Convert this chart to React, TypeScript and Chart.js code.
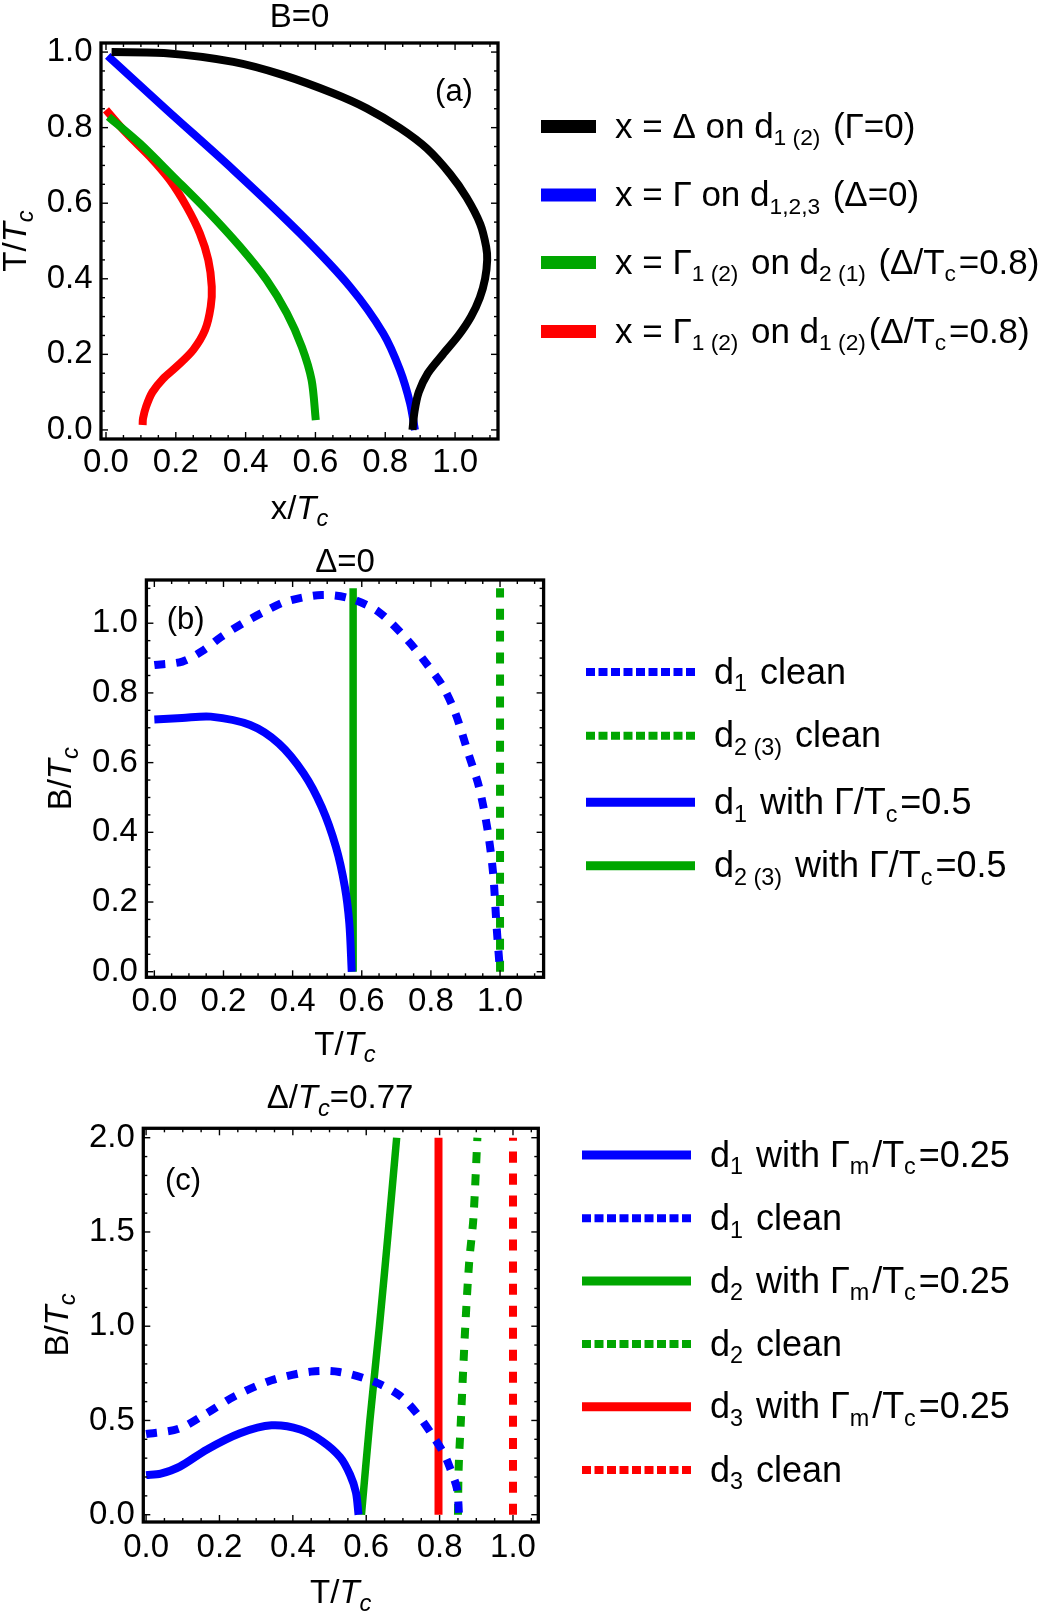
import React, { useEffect, useRef } from 'react';
import { Chart, registerables } from 'chart.js';

Chart.register(...registerables);

const FONT = '"Liberation Sans", Arial, Helvetica, sans-serif';
const PAGE_W = 1064;
const BLUE = '#0000ff';
const GREEN = '#00a600';
const RED = '#ff0000';
const BLACK = '#000000';

// ---------------- Panel (a): B = 0, x/Tc (horizontal) vs T/Tc (vertical) ----------------
const aXTicks = [0, 0.2, 0.4, 0.6, 0.8, 1.0];
const aYTicks = [0, 0.2, 0.4, 0.6, 0.8, 1.0];
const aBlackX = [0.016, 0.174, 0.365, 0.508, 0.651, 0.747, 0.842, 0.919, 0.986, 1.033, 1.072, 1.089, 1.092, 1.086, 1.071, 1.046, 1.01, 0.965, 0.922, 0.896, 0.884, 0.878];
const aBlackT = [1.0, 0.997, 0.974, 0.939, 0.891, 0.851, 0.799, 0.745, 0.677, 0.615, 0.545, 0.485, 0.45, 0.4, 0.35, 0.3, 0.25, 0.2, 0.15, 0.1, 0.05, 0.0];
const aBlueX = [0.005, 0.174, 0.365, 0.556, 0.699, 0.794, 0.842, 0.871, 0.885];
const aBlueT = [0.99, 0.847, 0.688, 0.52, 0.379, 0.256, 0.159, 0.071, 0.0];
const aGreenX = [0.007, 0.097, 0.193, 0.288, 0.384, 0.46, 0.518, 0.561, 0.589, 0.601];
const aGreenT = [0.829, 0.758, 0.67, 0.582, 0.485, 0.397, 0.309, 0.22, 0.132, 0.026];
const aRedX = [0.0, 0.059, 0.126, 0.183, 0.231, 0.269, 0.293, 0.303, 0.3, 0.284, 0.25, 0.203, 0.163, 0.133, 0.115, 0.106, 0.105];
const aRedT = [0.847, 0.785, 0.723, 0.661, 0.591, 0.52, 0.45, 0.379, 0.326, 0.265, 0.212, 0.168, 0.135, 0.1, 0.062, 0.03, 0.013];
const aLegendLabels = [
  'x = Δ on d_{1 (2)} (Γ=0)',
  'x = Γ on d_{1,2,3} (Δ=0)',
  'x = Γ_{1 (2)} on d_{2 (1)} (Δ/T_{c}=0.8)',
  'x = Γ_{1 (2)} on d_{1 (2)}(Δ/T_{c}=0.8)',
];

// ---------------- Panel (b): Δ = 0, T/Tc vs B/Tc ----------------
const bXTicks = [0, 0.2, 0.4, 0.6, 0.8, 1.0];
const bYTicks = [0, 0.2, 0.4, 0.6, 0.8, 1.0];
const bD1CleanT = [0.0, 0.081, 0.143, 0.194, 0.256, 0.318, 0.38, 0.484, 0.566, 0.648, 0.732, 0.794, 0.835, 0.871, 0.908, 0.939, 0.964, 0.98, 0.99, 1.0];
const bD1CleanB = [0.88, 0.89, 0.923, 0.961, 1.0, 1.033, 1.062, 1.081, 1.071, 1.033, 0.952, 0.875, 0.818, 0.741, 0.627, 0.531, 0.407, 0.282, 0.13, 0.0];
const bD23CleanT = [1.0, 1.0];
const bD23CleanB = [0.0, 1.1];
const bD1GammaT = [0.0, 0.08, 0.163, 0.277, 0.36, 0.432, 0.484, 0.525, 0.551, 0.564, 0.571];
const bD1GammaB = [0.724, 0.728, 0.732, 0.708, 0.655, 0.569, 0.473, 0.359, 0.244, 0.139, 0.0];
const bD23GammaT = [0.575, 0.575];
const bD23GammaB = [0.0, 1.1];
const bLegendLabels = [
  'd_{1} clean',
  'd_{2 (3)} clean',
  'd_{1} with Γ/T_{c}=0.5',
  'd_{2 (3)} with Γ/T_{c}=0.5',
];

// ---------------- Panel (c): Δ/Tc = 0.77, T/Tc vs B/Tc ----------------
const cXTicks = [0, 0.2, 0.4, 0.6, 0.8, 1.0];
const cYTicks = [0, 0.5, 1.0, 1.5, 2.0];
const cD1GammaT = [0.0, 0.04, 0.092, 0.165, 0.256, 0.342, 0.42, 0.48, 0.529, 0.556, 0.572, 0.579];
const cD1GammaB = [0.21, 0.218, 0.255, 0.345, 0.432, 0.474, 0.452, 0.39, 0.305, 0.212, 0.118, 0.0];
const cD1CleanT = [0.0, 0.089, 0.166, 0.244, 0.342, 0.449, 0.527, 0.624, 0.692, 0.741, 0.783, 0.81, 0.827, 0.847, 0.853];
const cD1CleanB = [0.428, 0.456, 0.539, 0.631, 0.713, 0.759, 0.757, 0.704, 0.631, 0.53, 0.414, 0.33, 0.255, 0.14, 0.0];
const cD2GammaT = [0.587, 0.61, 0.636, 0.66, 0.683];
const cD2GammaB = [0.0, 0.5, 1.0, 1.5, 2.0];
const cD2CleanT = [0.85, 0.852, 0.858, 0.87, 0.881, 0.892, 0.903];
const cD2CleanB = [0.0, 0.25, 0.5, 1.0, 1.35, 1.57, 2.0];
const cD3GammaT = [0.797, 0.797];
const cD3GammaB = [0.0, 2.0];
const cD3CleanT = [1.0, 1.0];
const cD3CleanB = [0.0, 2.0];
const cLegendLabels = [
  'd_{1} with Γ_{m}/T_{c}=0.25',
  'd_{1} clean',
  'd_{2} with Γ_{m}/T_{c}=0.25',
  'd_{2} clean',
  'd_{3} with Γ_{m}/T_{c}=0.25',
  'd_{3} clean',
];

// ---------------- types ----------------
type Series = { xs: number[]; ys: number[]; color: string; dashed: boolean; width: number };
type LegendItem = { label: string; color: string; dashed: boolean; width: number };
type PanelCfg = {
  key: string;
  top: number;
  height: number;
  frame: { l: number; r: number; t: number; b: number };
  xMin: number; xMax: number; yMin: number; yMax: number;
  xTicks: number[]; yTicks: number[];
  xStep: number; yStep: number; xMinor: number; yMinor: number;
  xPad: number;
  series: Series[];
  title: string; titleX: number; titleY: number;
  xLabel: string; xLabelX: number; xLabelY: number;
  yLabel: string; yLabelX: number; yLabelY: number;
  tag: string; tagX: number; tagY: number;
  legend: LegendItem[];
  legX0: number; legX1: number; legTextX: number; legYs: number[]; legFont: number; legDash: number[];
};

const PLOT_DASH = [11, 11];
const TICK_FONT = 33;
const LABEL_FONT = 33;

const PANELS: PanelCfg[] = [
  {
    key: 'a', top: 0, height: 535,
    frame: { l: 101, r: 498, t: 43, b: 439 },
    xMin: -0.0143, xMax: 1.123, yMin: -0.024, yMax: 1.024,
    xTicks: aXTicks, yTicks: aYTicks,
    xStep: 0.2, yStep: 0.2, xMinor: 0.05, yMinor: 0.05,
    xPad: 4.5,
    series: [
      { xs: aBlackX, ys: aBlackT, color: BLACK, dashed: false, width: 8 },
      { xs: aBlueX, ys: aBlueT, color: BLUE, dashed: false, width: 8 },
      { xs: aGreenX, ys: aGreenT, color: GREEN, dashed: false, width: 8 },
      { xs: aRedX, ys: aRedT, color: RED, dashed: false, width: 8 },
    ],
    title: 'B=0', titleX: 299.5, titleY: 27,
    xLabel: 'x/*T_{c}*', xLabelX: 299.5, xLabelY: 519,
    yLabel: 'T/*T_{c}*', yLabelX: 26, yLabelY: 241,
    tag: '(a)', tagX: 454, tagY: 101,
    legend: [
      { label: aLegendLabels[0], color: BLACK, dashed: false, width: 13 },
      { label: aLegendLabels[1], color: BLUE, dashed: false, width: 13 },
      { label: aLegendLabels[2], color: GREEN, dashed: false, width: 13 },
      { label: aLegendLabels[3], color: RED, dashed: false, width: 13 },
    ],
    legX0: 541, legX1: 596, legTextX: 615, legYs: [126.5, 195, 262.5, 331.5], legFont: 35, legDash: [9, 3.5],
  },
  {
    key: 'b', top: 535, height: 545,
    frame: { l: 146.4, r: 543.6, t: 580, b: 977.3 },
    xMin: -0.023, xMax: 1.126, yMin: -0.016, yMax: 1.124,
    xTicks: bXTicks, yTicks: bYTicks,
    xStep: 0.2, yStep: 0.2, xMinor: 0.05, yMinor: 0.05,
    xPad: 4.8,
    series: [
      { xs: bD1CleanT, ys: bD1CleanB, color: BLUE, dashed: true, width: 8 },
      { xs: bD23CleanT, ys: bD23CleanB, color: GREEN, dashed: true, width: 8 },
      { xs: bD1GammaT, ys: bD1GammaB, color: BLUE, dashed: false, width: 8 },
      { xs: bD23GammaT, ys: bD23GammaB, color: GREEN, dashed: false, width: 7.5 },
    ],
    title: 'Δ=0', titleX: 345, titleY: 571.7,
    xLabel: 'T/*T_{c}*', xLabelX: 345, xLabelY: 1055,
    yLabel: 'B/*T_{c}*', yLabelX: 71, yLabelY: 778.7,
    tag: '(b)', tagX: 185.7, tagY: 629,
    legend: [
      { label: bLegendLabels[0], color: BLUE, dashed: true, width: 8 },
      { label: bLegendLabels[1], color: GREEN, dashed: true, width: 8 },
      { label: bLegendLabels[2], color: BLUE, dashed: false, width: 9 },
      { label: bLegendLabels[3], color: GREEN, dashed: false, width: 9 },
    ],
    legX0: 586, legX1: 695, legTextX: 714, legYs: [672, 735.7, 802.3, 865.7], legFont: 36, legDash: [9, 3.5],
  },
  {
    key: 'c', top: 1080, height: 538,
    frame: { l: 143.3, r: 538.3, t: 1128.3, b: 1522 },
    xMin: -0.0076, xMax: 1.069, yMin: -0.0387, yMax: 2.05,
    xTicks: cXTicks, yTicks: cYTicks,
    xStep: 0.2, yStep: 0.5, xMinor: 0.05, yMinor: 0.1,
    xPad: 5.8,
    series: [
      { xs: cD1GammaT, ys: cD1GammaB, color: BLUE, dashed: false, width: 8 },
      { xs: cD1CleanT, ys: cD1CleanB, color: BLUE, dashed: true, width: 8 },
      { xs: cD2GammaT, ys: cD2GammaB, color: GREEN, dashed: false, width: 7.5 },
      { xs: cD2CleanT, ys: cD2CleanB, color: GREEN, dashed: true, width: 8 },
      { xs: cD3GammaT, ys: cD3GammaB, color: RED, dashed: false, width: 8 },
      { xs: cD3CleanT, ys: cD3CleanB, color: RED, dashed: true, width: 8 },
    ],
    title: 'Δ/*T_{c}*=0.77', titleX: 340, titleY: 1108.3,
    xLabel: 'T/*T_{c}*', xLabelX: 340.8, xLabelY: 1603.3,
    yLabel: 'B/*T_{c}*', yLabelX: 68, yLabelY: 1325,
    tag: '(c)', tagX: 183, tagY: 1190,
    legend: [
      { label: cLegendLabels[0], color: BLUE, dashed: false, width: 9 },
      { label: cLegendLabels[1], color: BLUE, dashed: true, width: 8 },
      { label: cLegendLabels[2], color: GREEN, dashed: false, width: 9 },
      { label: cLegendLabels[3], color: GREEN, dashed: true, width: 8 },
      { label: cLegendLabels[4], color: RED, dashed: false, width: 9 },
      { label: cLegendLabels[5], color: RED, dashed: true, width: 8 },
    ],
    legX0: 582, legX1: 691, legTextX: 710, legYs: [1155, 1218.3, 1281, 1344, 1406.7, 1470], legFont: 36, legDash: [9, 3.5],
  },
];

// ---------------- rich text helpers ----------------
type Seg = { t: string; sub: boolean; it: boolean };
type SubOpts = { scale: number; shift: number; gap: number };
const AX_SUB: SubOpts = { scale: 0.72, shift: 0.22, gap: 0 };
const LEG_SUB: SubOpts = { scale: 0.65, shift: 0.22, gap: 0.08 };

function richSegments(s: string): Seg[] {
  const out: Seg[] = [];
  let it = false;
  let buf = '';
  for (let i = 0; i < s.length; i++) {
    const ch = s[i];
    if (ch === '*') {
      if (buf) out.push({ t: buf, sub: false, it });
      buf = '';
      it = !it;
      continue;
    }
    if (ch === '_' && s[i + 1] === '{') {
      if (buf) out.push({ t: buf, sub: false, it });
      buf = '';
      const end = s.indexOf('}', i + 2);
      out.push({ t: s.slice(i + 2, end), sub: true, it });
      i = end;
      continue;
    }
    buf += ch;
  }
  if (buf) out.push({ t: buf, sub: false, it });
  return out;
}

function drawRich(ctx: CanvasRenderingContext2D, s: string, x: number, y: number, size: number, align: 'left' | 'center', o: SubOpts) {
  const segs = richSegments(s);
  const fontOf = (seg: Seg) => `${seg.it ? 'italic ' : ''}${(seg.sub ? size * o.scale : size).toFixed(2)}px ${FONT}`;
  const ws = segs.map((seg) => {
    ctx.font = fontOf(seg);
    return ctx.measureText(seg.t).width + (seg.sub ? o.gap * size : 0);
  });
  const total = ws.reduce((a, b) => a + b, 0);
  let cx = align === 'center' ? x - total / 2 : x;
  ctx.textAlign = 'left';
  ctx.textBaseline = 'alphabetic';
  ctx.fillStyle = '#000';
  segs.forEach((seg, i) => {
    ctx.font = fontOf(seg);
    ctx.fillText(seg.t, cx, y + (seg.sub ? o.shift * size : 0));
    cx += ws[i];
  });
}

function makeDecor(cfg: PanelCfg) {
  return {
    id: 'decor_' + cfg.key,
    afterDraw(chart: any) {
      const ctx: CanvasRenderingContext2D = chart.ctx;
      const ca = chart.chartArea;
      const xs = chart.scales.x;
      const ys = chart.scales.y;
      const oy = cfg.top;
      ctx.save();
      ctx.setLineDash([]);
      ctx.strokeStyle = '#000';
      ctx.lineCap = 'butt';
      ctx.lineWidth = 1.4;
      const seg = (x1: number, y1: number, x2: number, y2: number) => {
        ctx.beginPath();
        ctx.moveTo(x1, y1);
        ctx.lineTo(x2, y2);
        ctx.stroke();
      };
      const xr = Math.round(cfg.xStep / cfg.xMinor);
      for (let k = Math.ceil(cfg.xMin / cfg.xMinor - 1e-9); k * cfg.xMinor <= cfg.xMax + 1e-9; k++) {
        const px = xs.getPixelForValue(k * cfg.xMinor);
        const len = ((k % xr) + xr) % xr === 0 ? 7 : 4;
        seg(px, ca.bottom, px, ca.bottom - len);
        seg(px, ca.top, px, ca.top + len);
      }
      const yr = Math.round(cfg.yStep / cfg.yMinor);
      for (let k = Math.ceil(cfg.yMin / cfg.yMinor - 1e-9); k * cfg.yMinor <= cfg.yMax + 1e-9; k++) {
        const py = ys.getPixelForValue(k * cfg.yMinor);
        const len = ((k % yr) + yr) % yr === 0 ? 7 : 4;
        seg(ca.left, py, ca.left + len, py);
        seg(ca.right, py, ca.right - len, py);
      }
      ctx.lineWidth = 3.3;
      ctx.strokeRect(ca.left, ca.top, ca.right - ca.left, ca.bottom - ca.top);

      // titles and labels
      drawRich(ctx, cfg.title, cfg.titleX, cfg.titleY - oy, LABEL_FONT, 'center', AX_SUB);
      drawRich(ctx, cfg.xLabel, cfg.xLabelX, cfg.xLabelY - oy, LABEL_FONT, 'center', AX_SUB);
      ctx.save();
      ctx.translate(cfg.yLabelX, cfg.yLabelY - oy);
      ctx.rotate(-Math.PI / 2);
      drawRich(ctx, cfg.yLabel, 0, 0, LABEL_FONT, 'center', AX_SUB);
      ctx.restore();
      drawRich(ctx, cfg.tag, cfg.tagX, cfg.tagY - oy, 31, 'center', AX_SUB);

      // legend
      cfg.legend.forEach((item, i) => {
        const y = cfg.legYs[i] - oy;
        ctx.strokeStyle = item.color;
        ctx.lineWidth = item.width;
        ctx.lineCap = 'butt';
        ctx.setLineDash(item.dashed ? cfg.legDash : []);
        ctx.beginPath();
        ctx.moveTo(cfg.legX0, y);
        ctx.lineTo(cfg.legX1, y);
        ctx.stroke();
        ctx.setLineDash([]);
        drawRich(ctx, item.label, cfg.legTextX, y + 0.32 * cfg.legFont, cfg.legFont, 'left', LEG_SUB);
      });
      ctx.restore();
    },
  };
}

function Panel({ cfg }: { cfg: PanelCfg }) {
  const ref = useRef<HTMLCanvasElement | null>(null);
  useEffect(() => {
    const canvas = ref.current;
    if (!canvas) return;
    const f = cfg.frame;
    const H = cfg.height;
    const tickFont = { family: FONT, size: TICK_FONT };
    const chart = new Chart(canvas, {
      type: 'scatter',
      data: {
        datasets: cfg.series.map((s) => ({
          data: s.xs.map((x, i) => ({ x, y: s.ys[i] })),
          showLine: true,
          borderColor: s.color,
          backgroundColor: s.color,
          borderWidth: s.width,
          borderDash: s.dashed ? PLOT_DASH : [],
          borderCapStyle: 'butt',
          borderJoinStyle: 'round',
          pointRadius: 0,
          pointHoverRadius: 0,
          tension: 0.3,
          fill: false,
        })),
      },
      options: {
        responsive: false,
        maintainAspectRatio: false,
        animation: false,
        events: [],
        layout: { padding: { top: f.t - cfg.top, right: PAGE_W - f.r, bottom: 0, left: 0 } },
        plugins: {
          legend: { display: false },
          tooltip: { enabled: false },
          title: { display: false },
        },
        scales: {
          x: {
            type: 'linear',
            min: cfg.xMin,
            max: cfg.xMax,
            bounds: 'data',
            grid: { display: false, drawTicks: false },
            border: { display: false },
            afterBuildTicks: (scale: any) => {
              scale.ticks = cfg.xTicks.map((v) => ({ value: v }));
            },
            ticks: {
              autoSkip: false,
              maxRotation: 0,
              minRotation: 0,
              padding: cfg.xPad,
              color: '#000',
              font: tickFont,
              callback: (v: any) => Number(v).toFixed(1),
            },
            afterFit: (s: any) => {
              s.height = H - (f.b - cfg.top);
            },
          },
          y: {
            type: 'linear',
            min: cfg.yMin,
            max: cfg.yMax,
            bounds: 'data',
            grid: { display: false, drawTicks: false },
            border: { display: false },
            afterBuildTicks: (scale: any) => {
              scale.ticks = cfg.yTicks.map((v) => ({ value: v }));
            },
            ticks: {
              autoSkip: false,
              padding: 8.5,
              color: '#000',
              font: tickFont,
              callback: (v: any) => Number(v).toFixed(1),
            },
            afterFit: (s: any) => {
              s.width = f.l;
            },
          },
        },
      } as any,
      plugins: [makeDecor(cfg)],
    });
    return () => chart.destroy();
  }, [cfg]);
  return (
    <canvas
      ref={ref}
      width={PAGE_W}
      height={cfg.height}
      style={{ position: 'absolute', left: 0, top: cfg.top, width: PAGE_W, height: cfg.height, display: 'block' }}
    />
  );
}

export default function App() {
  return (
    <div style={{ position: 'absolute', left: 0, top: 0, width: PAGE_W, height: 1618, background: '#ffffff', overflow: 'hidden' }}>
      {PANELS.map((p) => (
        <Panel key={p.key} cfg={p} />
      ))}
    </div>
  );
}
